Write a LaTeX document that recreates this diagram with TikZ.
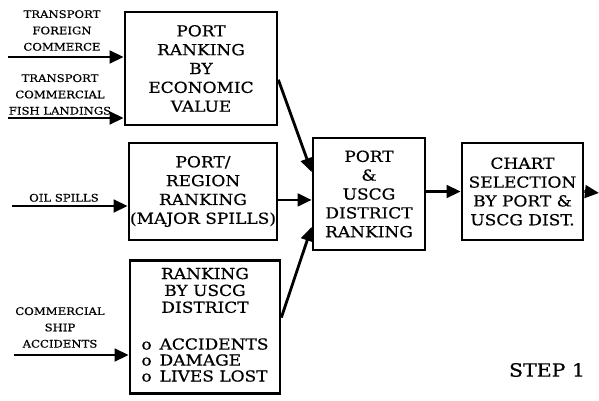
\documentclass[tikz,border=0pt]{standalone}
\usepackage{fontspec}
\usetikzlibrary{arrows.meta}
\newfontfamily\chartfont[FakeStretch=1.12,FakeBold=0.6]{DejaVu Serif}

\begin{document}
\begin{tikzpicture}[x=0.025cm,y=-0.025cm,
            stage/.style={draw, line width=1.9pt, inner sep=0pt, align=center,
                font=\chartfont\fontsize{10.8}{13.4}\selectfont},
            source/.style={anchor=south, inner sep=0pt, align=center,
                font=\chartfont\fontsize{7.4}{11.6}\selectfont},
            flow/.style={line width=2pt, -{Triangle[length=10pt,width=9pt]}}]
            \useasboundingbox (0,0) rectangle (599,401);

            \node[stage, minimum width=3.8cm, minimum height=2.825cm] (econ) at (201,68.5)
                {PORT\\RANKING\\BY\\ECONOMIC\\VALUE};
            \node[stage, minimum width=3.7cm, minimum height=2.425cm] (spill) at (203,191.5)
                {PORT/\\REGION\\RANKING\\(MAJOR SPILLS)};
            \node[stage, minimum width=3.75cm, minimum height=3.325cm,
                font=\chartfont\fontsize{10.8}{12}\selectfont] (accid) at (205,327)
                {RANKING\\BY USCG\\DISTRICT\\[17pt]
                \renewcommand\arraystretch{0.93}%
                \begin{tabular}{@{}l@{}}o\, ACCIDENTS\\o\, DAMAGE\\o\, LIVES LOST\end{tabular}};
            \node[stage, minimum width=2.8cm, minimum height=2.8cm] (district) at (369,194)
                {PORT\\\&\\USCG\\DISTRICT\\RANKING};
            \node[stage, minimum width=3.025cm, minimum height=2.425cm] (chart) at (522.5,191.5)
                {CHART\\SELECTION\\BY PORT \&\\USCG DIST.};

            \coordinate (in1) at (8,57);
            \coordinate (in2) at (8,118);
            \coordinate (in3) at (12,206);
            \coordinate (in4) at (14,355);
            \coordinate (out) at (599,193);

            \node[source] (lforeign) at (62,51) {TRANSPORT\\FOREIGN\\COMMERCE};
            \node[source] (lfish) at (60,115) {TRANSPORT\\COMMERCIAL\\FISH LANDINGS};
            \node[source] (loil) at (64,202) {OIL SPILLS};
            \node[source] (lship) at (60,348) {COMMERCIAL\\SHIP\\ACCIDENTS};

            \node[font=\chartfont\fontsize{13}{15}\selectfont] (step) at (547,370) {STEP 1};

            \draw[flow] (in1) -- (in1 -| econ.west);
            \draw[flow] (in2) -- (in2 -| econ.west);
            \draw[flow] (in3) -- (in3 -| spill.west);
            \draw[flow] (in4) -- (in4 -| accid.west);
            \draw[flow] ([yshift=-8pt]econ.east) -- ([yshift=15.6pt]district.west);
            \draw[flow] ([yshift=-6pt]spill.east) -- ([yshift=-6pt]spill.east -| district.west);
            \draw[flow] ([yshift=6.7pt]accid.east) -- ([yshift=-23.4pt]district.west);
            \draw[flow] (chart.west -| district.east) -- (chart.west);
            \draw[flow] (chart.east) -- (out);
\end{tikzpicture}
\end{document}
